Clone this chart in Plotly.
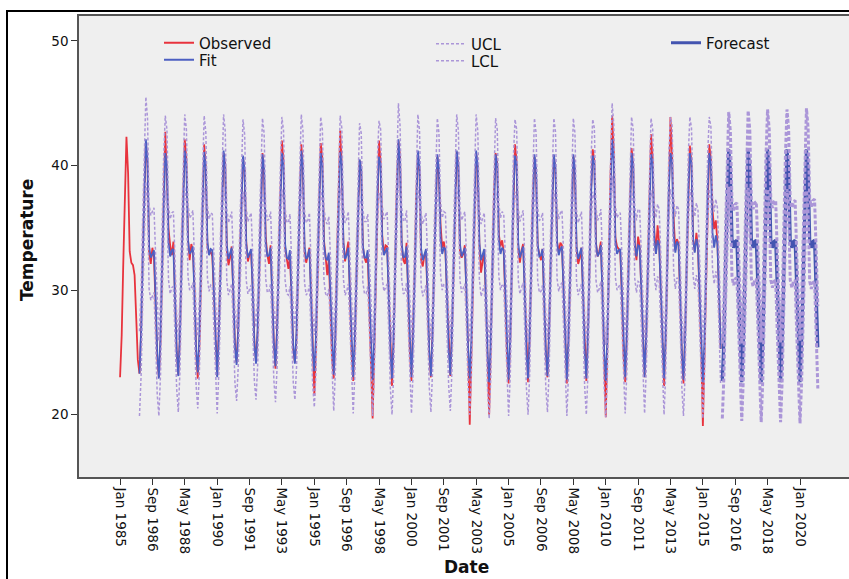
import datetime as dt
import plotly.graph_objects as go

# ---- data -------------------------------------------------------------
months = ["Jan", "Feb", "Mar", "Apr", "May", "Jun",
          "Jul", "Aug", "Sep", "Oct", "Nov", "Dec"]

observed_years = list(range(1985, 2016))
observed = [
    [23.0, 26.4, 31.9, 38.3, 42.3, 39.4, 33.1, 32.2, 32.0, 31.2, 27.8, 24.4],
    [23.3, 26.8, 32.5, 37.9, 41.8, 40.2, 33.0, 32.1, 33.4, 32.6, 29.0, 24.6],
    [23.0, 25.9, 31.2, 38.6, 42.7, 39.1, 34.9, 33.6, 32.8, 33.9, 28.7, 25.1],
    [23.2, 26.3, 32.0, 37.4, 42.1, 40.5, 34.1, 32.4, 33.7, 33.2, 30.1, 24.9],
    [22.9, 25.6, 30.8, 37.0, 41.7, 39.8, 33.6, 32.9, 33.1, 32.7, 29.4, 25.3],
    [23.1, 26.9, 31.7, 37.8, 41.0, 40.1, 33.2, 32.0, 32.6, 33.5, 29.8, 25.6],
    [24.2, 27.0, 32.4, 37.1, 40.6, 39.6, 33.9, 32.3, 32.9, 33.0, 30.2, 25.9],
    [24.3, 26.6, 31.4, 38.0, 41.0, 39.2, 34.3, 32.8, 32.1, 33.6, 29.9, 25.7],
    [23.7, 27.2, 32.2, 37.6, 42.0, 40.4, 33.4, 32.5, 31.7, 32.8, 29.5, 25.2],
    [24.2, 26.1, 31.6, 38.2, 41.7, 39.9, 33.1, 32.2, 32.9, 33.4, 30.0, 24.8],
    [21.5, 25.4, 30.9, 37.5, 41.8, 40.6, 34.0, 32.7, 31.2, 32.5, 29.1, 24.5],
    [22.9, 26.2, 32.3, 38.4, 42.8, 40.0, 33.8, 32.3, 33.0, 33.9, 29.6, 25.0],
    [22.7, 25.8, 30.6, 36.8, 40.4, 39.7, 33.5, 32.6, 32.2, 32.9, 28.9, 24.6],
    [19.7, 25.0, 31.3, 38.1, 42.0, 40.3, 34.4, 32.9, 33.6, 33.5, 29.3, 24.7],
    [22.3, 26.0, 32.4, 38.3, 42.0, 40.7, 33.6, 32.4, 32.1, 33.8, 29.7, 25.2],
    [22.7, 26.4, 31.5, 37.6, 41.0, 39.5, 32.4, 31.9, 32.8, 33.1, 29.2, 24.9],
    [23.0, 26.7, 31.9, 37.2, 40.8, 39.2, 35.3, 33.4, 33.9, 33.0, 29.5, 25.3],
    [23.1, 26.5, 31.6, 37.9, 41.1, 40.0, 33.0, 32.6, 32.9, 33.6, 29.9, 25.4],
    [19.2, 24.8, 31.0, 37.5, 41.0, 39.8, 33.7, 31.4, 32.4, 33.2, 29.3, 24.6],
    [20.0, 25.6, 31.8, 37.7, 41.0, 40.2, 34.5, 33.5, 34.0, 33.1, 29.0, 24.8],
    [22.5, 26.0, 31.4, 38.0, 41.7, 40.3, 33.3, 32.2, 33.2, 33.7, 29.8, 25.1],
    [22.6, 26.3, 31.7, 37.3, 40.7, 39.4, 33.5, 32.8, 32.4, 33.3, 29.4, 25.0],
    [23.0, 26.8, 32.1, 37.6, 40.8, 39.6, 33.9, 33.0, 33.8, 33.6, 30.0, 25.3],
    [22.5, 26.1, 31.3, 37.4, 40.8, 39.5, 33.2, 32.1, 32.6, 33.4, 29.6, 24.9],
    [22.7, 26.5, 32.2, 38.1, 41.3, 40.4, 33.8, 32.7, 33.1, 33.9, 29.7, 25.2],
    [19.8, 25.7, 32.7, 39.2, 44.0, 41.2, 34.2, 33.5, 33.3, 33.0, 29.5, 24.8],
    [22.6, 26.2, 31.5, 37.8, 41.4, 40.1, 33.6, 32.4, 34.3, 33.5, 29.8, 25.1],
    [23.0, 26.4, 31.8, 38.3, 42.5, 40.6, 34.8, 32.9, 35.2, 33.8, 29.9, 25.0],
    [22.3, 26.0, 32.4, 39.0, 43.9, 40.9, 35.7, 33.2, 34.1, 33.7, 29.6, 24.7],
    [22.5, 26.3, 31.6, 37.9, 41.6, 40.2, 34.0, 33.1, 34.6, 33.4, 29.8, 25.2],
    [19.1, 25.4, 31.9, 38.2, 41.7, 40.5, 36.4, 34.9, 35.6, 33.9, 29.7, 25.3],
]

fit_years = list(range(1986, 2016))
fit = [
    [23.3, 26.6, 32.2, 38.3, 42.1, 40.4, 33.5, 32.6, 33.0, 33.2, 29.3, 25.0],
    [22.9, 26.3, 31.8, 37.8, 41.0, 39.9, 33.8, 32.7, 33.2, 33.3, 29.4, 25.1],
    [23.1, 26.4, 32.0, 37.9, 41.2, 40.0, 34.0, 32.9, 33.1, 33.5, 29.6, 25.2],
    [23.4, 26.5, 31.6, 37.6, 41.1, 39.8, 33.9, 32.8, 33.3, 33.2, 29.5, 25.3],
    [23.0, 26.3, 31.7, 37.7, 41.2, 39.9, 33.6, 32.5, 33.0, 33.4, 29.7, 25.4],
    [24.0, 26.8, 32.0, 37.5, 40.8, 39.6, 33.7, 32.6, 32.9, 33.3, 29.8, 25.6],
    [24.1, 26.9, 31.9, 37.6, 40.9, 39.7, 33.8, 32.7, 32.8, 33.4, 29.8, 25.7],
    [23.9, 26.8, 31.9, 37.7, 41.0, 39.9, 33.7, 32.6, 32.5, 33.2, 29.6, 25.5],
    [24.1, 26.7, 31.8, 37.8, 41.2, 39.9, 33.5, 32.5, 32.7, 33.3, 29.7, 25.3],
    [23.5, 26.3, 31.6, 37.6, 41.0, 40.0, 33.7, 32.6, 32.4, 33.0, 29.5, 25.1],
    [23.2, 26.4, 31.9, 37.9, 41.1, 40.1, 33.8, 32.5, 32.8, 33.4, 29.6, 25.2],
    [23.0, 26.2, 31.5, 37.3, 40.5, 39.7, 33.6, 32.6, 32.6, 33.2, 29.4, 25.0],
    [22.8, 26.0, 31.6, 37.7, 40.7, 40.0, 33.9, 32.8, 33.1, 33.4, 29.5, 25.0],
    [22.9, 26.2, 32.0, 38.0, 42.1, 40.3, 33.8, 32.6, 32.7, 33.5, 29.6, 25.2],
    [23.0, 26.3, 31.8, 37.8, 41.2, 39.9, 33.3, 32.4, 32.8, 33.3, 29.5, 25.1],
    [23.1, 26.4, 31.8, 37.6, 40.9, 39.7, 34.2, 32.9, 33.4, 33.3, 29.5, 25.2],
    [23.2, 26.5, 31.8, 37.8, 41.2, 39.9, 33.7, 32.7, 33.0, 33.4, 29.7, 25.3],
    [22.9, 26.0, 31.5, 37.6, 41.2, 39.9, 33.8, 32.4, 32.8, 33.3, 29.5, 25.0],
    [22.6, 25.9, 31.6, 37.6, 40.9, 40.0, 34.0, 32.9, 33.4, 33.2, 29.4, 25.0],
    [22.8, 26.1, 31.6, 37.8, 40.8, 40.0, 33.7, 32.6, 33.1, 33.5, 29.6, 25.1],
    [22.9, 26.2, 31.7, 37.6, 40.9, 39.7, 33.7, 32.7, 32.8, 33.3, 29.5, 25.1],
    [23.1, 26.4, 31.9, 37.7, 40.9, 39.8, 33.8, 32.8, 33.3, 33.5, 29.7, 25.2],
    [22.8, 26.2, 31.6, 37.6, 40.9, 39.7, 33.5, 32.5, 32.9, 33.4, 29.6, 25.1],
    [22.9, 26.3, 31.9, 37.9, 40.8, 40.1, 33.7, 32.7, 33.0, 33.6, 29.7, 25.2],
    [22.7, 26.1, 32.0, 38.2, 42.1, 40.4, 33.9, 32.9, 33.2, 33.3, 29.6, 25.1],
    [23.0, 26.3, 31.8, 37.8, 41.0, 40.0, 33.8, 32.7, 33.6, 33.5, 29.7, 25.2],
    [23.0, 26.4, 31.9, 37.9, 40.9, 40.1, 34.1, 32.9, 34.0, 33.6, 29.8, 25.2],
    [22.9, 26.2, 32.0, 38.1, 41.0, 40.3, 34.4, 33.0, 33.9, 33.6, 29.7, 25.1],
    [22.8, 26.2, 31.8, 37.9, 41.0, 40.1, 34.1, 33.0, 34.1, 33.5, 29.7, 25.2],
    [22.6, 26.0, 31.9, 38.0, 41.0, 40.2, 34.6, 33.4, 34.4, 33.7, 29.7, 25.3],
]

forecast_years = list(range(2016, 2021))
forecast = [
    [22.7, 26.2, 31.8, 37.5, 41.3, 39.7, 34.1, 33.4, 33.9, 34.0, 29.6, 25.4],
    [22.6, 26.2, 31.8, 37.5, 41.3, 39.7, 34.0, 33.4, 33.9, 34.0, 29.6, 25.4],
    [22.6, 26.1, 31.8, 37.5, 41.3, 39.7, 34.0, 33.4, 33.9, 34.0, 29.6, 25.4],
    [22.6, 26.1, 31.8, 37.5, 41.3, 39.7, 34.0, 33.4, 33.9, 34.0, 29.6, 25.4],
    [22.6, 26.1, 31.8, 37.5, 41.3, 39.7, 34.0, 33.4, 33.9, 34.0, 29.6, 25.4],
]

# half-width of the 95% confidence limits, one value per year
fit_halfwidth = [3.4, 3.0] + [2.9] * 28
forecast_halfwidth = [3.0, 3.1, 3.2, 3.2, 3.3]

tick_labels = ["Jan 1985", "Sep 1986", "May 1988", "Jan 1990", "Sep 1991",
               "May 1993", "Jan 1995", "Sep 1996", "May 1998", "Jan 2000",
               "Sep 2001", "May 2003", "Jan 2005", "Sep 2006", "May 2008",
               "Jan 2010", "Sep 2011", "May 2013", "Jan 2015", "Sep 2016",
               "May 2018", "Jan 2020"]
y_ticks = [20, 30, 40, 50]


# ---- helpers ----------------------------------------------------------
def monthly(years, rows):
    xs, ys = [], []
    for yr, row in zip(years, rows):
        for m, v in enumerate(row, start=1):
            xs.append(f"{yr}-{m:02d}-01")
            ys.append(v)
    return xs, ys


def band(years, rows, half, sign):
    out = []
    for row, h in zip(rows, half):
        out.append([v + sign * h for v in row])
    return monthly(years, out)


x_obs, y_obs = monthly(observed_years, observed)
x_fit, y_fit = monthly(fit_years, fit)
x_fc, y_fc = monthly(forecast_years, forecast)
x_ucl, y_ucl = band(fit_years, fit, fit_halfwidth, +1)
_, y_lcl = band(fit_years, fit, fit_halfwidth, -1)
x_fucl, y_fucl = band(forecast_years, forecast, forecast_halfwidth, +1)
_, y_flcl = band(forecast_years, forecast, forecast_halfwidth, -1)

tick_vals = [dt.datetime.strptime(t, "%b %Y").strftime("%Y-%m-%d")
             for t in tick_labels]

FONT = "DejaVu Sans, Verdana, sans-serif"
RED = "#e8333d"
BLUE = "#4c5fc2"
FC_BLUE = "#4354b0"
LAV = "#ab96d8"

# figure geometry (pixels)
W, H = 849, 579
L, T, R, B = 79, 16, 0, 102
PW, PH = W - L - R, H - T - B


def px_x(px):
    return (px - L) / PW


def px_y(py):
    return (H - B - py) / PH


fig = go.Figure()

fig.add_trace(go.Scatter(x=x_obs, y=y_obs, name="Observed", mode="lines",
                         line=dict(color=RED, width=1.8), legend="legend"))
fig.add_trace(go.Scatter(x=x_fit, y=y_fit, name="Fit", mode="lines",
                         line=dict(color=BLUE, width=1.8), legend="legend2"))
fig.add_trace(go.Scatter(x=x_fc, y=y_fc, name="Forecast", mode="lines",
                         line=dict(color=FC_BLUE, width=3.2), legend="legend5"))
fig.add_trace(go.Scatter(x=x_ucl, y=y_ucl, name="UCL", mode="lines",
                         line=dict(color=LAV, width=1.5, dash="3px,2px"),
                         legend="legend3"))
fig.add_trace(go.Scatter(x=x_ucl, y=y_lcl, name="LCL", mode="lines",
                         line=dict(color=LAV, width=1.5, dash="3px,2px"),
                         legend="legend4"))
fig.add_trace(go.Scatter(x=x_fucl, y=y_fucl, name="UCL", mode="lines",
                         line=dict(color=LAV, width=3, dash="4px,2px"),
                         showlegend=False))
fig.add_trace(go.Scatter(x=x_fucl, y=y_flcl, name="LCL", mode="lines",
                         line=dict(color=LAV, width=3, dash="4px,2px"),
                         showlegend=False))


def legend_box(px, py):
    return dict(x=px_x(px - 5), y=px_y(py), xanchor="left", yanchor="middle",
                bgcolor="rgba(0,0,0,0)", borderwidth=0,
                font=dict(family=FONT, size=15, color="#111111"))


fig.update_layout(
    width=W, height=H,
    margin=dict(l=L, r=R, t=T, b=B),
    paper_bgcolor="white",
    plot_bgcolor="#efefef",
    font=dict(family=FONT, color="#111111"),
    legend=legend_box(164, 43),
    legend2=legend_box(164, 60),
    legend3=legend_box(436, 44),
    legend4=legend_box(436, 61),
    legend5=legend_box(671, 43),
    xaxis=dict(
        type="date",
        range=["1982-11-21", "2022-07-10"],
        tickmode="array", tickvals=tick_vals, ticktext=tick_labels,
        tickangle=90, ticks="outside", ticklen=6, tickcolor="#333333",
        tickfont=dict(family=FONT, size=13.5, color="#111111"),
        showgrid=False, zeroline=False,
        showline=True, linecolor="#555555", linewidth=1.5, mirror=True,
    ),
    yaxis=dict(
        range=[15, 52],
        tickmode="array", tickvals=y_ticks,
        ticks="outside", ticklen=6, tickcolor="#333333",
        tickfont=dict(family=FONT, size=13.5, color="#111111"),
        showgrid=False, zeroline=False,
        showline=True, linecolor="#555555", linewidth=1.5,
    ),
    shapes=[dict(type="rect", xref="paper", yref="paper",
                 x0=px_x(7), x1=px_x(870), y0=px_y(600), y1=px_y(11),
                 line=dict(color="black", width=2), fillcolor="rgba(0,0,0,0)",
                 layer="above")],
    annotations=[
        dict(text="<b>Temperature</b>", xref="paper", yref="paper",
             x=px_x(27), y=px_y(240), textangle=-90, showarrow=False,
             font=dict(family=FONT, size=17, color="#111111"),
             xanchor="center", yanchor="middle"),
        dict(text="<b>Date</b>", xref="paper", yref="paper",
             x=px_x(467), y=px_y(567), showarrow=False,
             font=dict(family=FONT, size=17, color="#111111"),
             xanchor="center", yanchor="middle"),
    ],
)

fig.write_html("out.html")
